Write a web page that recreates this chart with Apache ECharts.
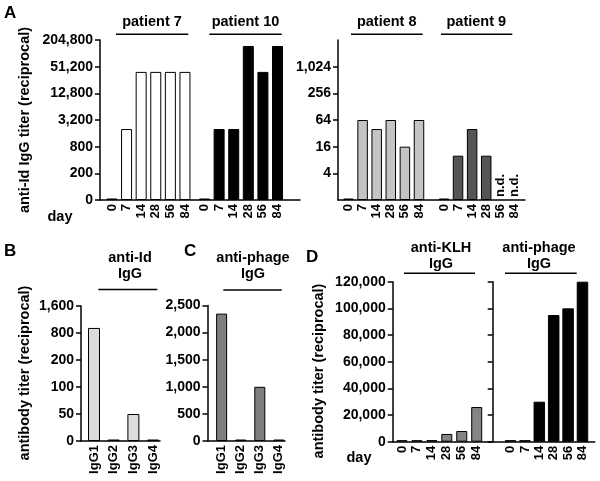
<!DOCTYPE html>
<html>
<head>
<meta charset="utf-8">
<title>antibody titers</title>
<script src="https://cdn.jsdelivr.net/npm/echarts@6/dist/echarts.min.js"></script>
<style>
  html, body { margin: 0; background: #fff; }
  #main { width: 600px; height: 481px; }
</style>
</head>
<body>
<div id="main"></div>
<script>
// days after vaccination
var days = ['0', '7', '14', '28', '56', '84'];
// panel A: anti-Id IgG titers (reciprocal), null = n.d.
var patient7 = [0, 2000, 39000, 39000, 39000, 39000];
var patient10 = [0, 2000, 2000, 150000, 39000, 150000];
var patient8 = [0, 64, 40, 64, 16, 64];
var patient9 = [0, 10, 40, 10, null, null];
var ticksA1 = ['0', '200', '800', '3,200', '12,800', '51,200', '204,800'];
var ticksA2 = ['1', '4', '16', '64', '256', '1,024', '4,096'];
// panels B and C: IgG subclasses
var subclasses = ['IgG1', 'IgG2', 'IgG3', 'IgG4'];
var antiIdSub = [950, 0, 50, 0];
var antiPhageSub = [2350, 0, 1000, 0];
var ticksB = [0, 50, 100, 200, 800, 1600];
// panel D
var antiKLH = [300, 300, 1200, 5800, 8000, 26000];
var antiPhage = [1000, 1000, 30000, 95000, 100000, 120000];

var FONT = '"Liberation Sans", Arial, sans-serif';
var chart = echarts.init(document.getElementById('main'));

function log4(v) { return Math.log(v) / Math.log(4); }
// log scale, "0" drawn as a flat bar on the baseline
function posA1(v) { return v > 0 ? log4(v / 50) : 0; }
function posA2(v) { return v > 0 ? log4(v) : 0; }
// panel B axis is piecewise (0, 50, 100, 200, 800, 1600 evenly spaced)
function posB(v) {
  if (v <= 0) return 0;
  for (var i = 1; i < ticksB.length; i++) {
    if (v <= ticksB[i]) return i - 1 + (v - ticksB[i - 1]) / (ticksB[i] - ticksB[i - 1]);
  }
  return ticksB.length - 1;
}
function fmt(v) { return Number(v).toLocaleString('en-US'); }

function xAx(gi, pos, labels, min, max) {
  var lut = {};
  pos.forEach(function (p, i) { lut[p.toFixed(3)] = labels[i]; });
  return {
    type: 'value', gridIndex: gi, min: min, max: max,
    axisLine: { show: true, onZero: false, lineStyle: { color: '#000', width: 1.5 } },
    axisTick: { show: false },
    splitLine: { show: false },
    axisLabel: {
      customValues: pos, rotate: 90, margin: 4,
      color: '#000', fontFamily: FONT, fontWeight: 'bold', fontSize: 13,
      formatter: function (v) { return lut[Number(v).toFixed(3)] || ''; }
    }
  };
}
function yAx(gi, min, max, interval, formatter, extra) {
  var ax = {
    type: 'value', gridIndex: gi, min: min, max: max, interval: interval,
    axisLine: { show: true, onZero: false, lineStyle: { color: '#000', width: 1.5 } },
    axisTick: { show: true, length: 5, lineStyle: { color: '#000', width: 1.5 } },
    splitLine: { show: false },
    axisLabel: {
      margin: 7, color: '#000', fontFamily: FONT, fontWeight: 'bold', fontSize: 14,
      formatter: formatter
    }
  };
  if (extra) extra(ax);
  return ax;
}
function idx(n, off) { var a = []; for (var i = 0; i < n; i++) a.push(+(off + i).toFixed(3)); return a; }

function bars(gi, groups, width) {
  var data = [];
  groups.forEach(function (g) {
    g.values.forEach(function (v, i) {
      if (v === null) {
        data.push({
          value: [g.x[i], 2], itemStyle: { color: 'transparent', borderWidth: 0 },
          label: {
            show: true, formatter: 'n.d.', position: 'insideBottom', distance: 3,
            rotate: 90, align: 'left', verticalAlign: 'middle',
            color: '#000', fontFamily: FONT, fontWeight: 'bold', fontSize: 13
          }
        });
      } else {
        data.push({ value: [g.x[i], g.pos(v)], itemStyle: { color: g.color } });
      }
    });
  });
  return {
    type: 'bar', xAxisIndex: gi, yAxisIndex: gi, barWidth: width, barMinHeight: 1.5,
    itemStyle: { borderColor: '#000', borderWidth: 1 },
    data: data
  };
}

var xA7 = idx(6, 0), xA10 = idx(6, 6.34);
var xA8 = idx(6, 0), xA9 = idx(6, 6.77);
var xSub = idx(4, 0);
var xD = idx(6, 0);
var lin = function (v) { return v; };

var grids = [
  { left: 100, top: 40, width: 200, height: 160 },
  { left: 338, top: 40, width: 187, height: 160 },
  { left: 81, top: 306, width: 79, height: 135 },
  { left: 207.5, top: 305.5, width: 77.5, height: 135.5 },
  { left: 392.7, top: 281.7, width: 100, height: 160 },
  { left: 492.7, top: 281.7, width: 102, height: 160 }
];

var xAxes = [
  xAx(0, xA7.concat(xA10), days.concat(days), -0.82, 12.88),
  xAx(1, xA8.concat(xA9), days.concat(days), -0.745, 12.52),
  xAx(2, xSub, subclasses, -0.66, 3.35),
  xAx(3, xSub, subclasses, -0.74, 3.32),
  xAx(4, xD, days, -0.62, 6.07),
  xAx(5, xD, days, -1.24, 5.85)
];

var yAxes = [
  yAx(0, 0, 6, 1, function (v) { return ticksA1[v]; }),
  yAx(1, 0, 6, 1, function (v) { return ticksA2[v]; }, function (ax) {
    ax.axisTick.customValues = [1, 2, 3, 4, 5];
    ax.axisLabel.customValues = [1, 2, 3, 4, 5];
  }),
  yAx(2, 0, 5, 1, function (v) { return fmt(ticksB[v]); }),
  yAx(3, 0, 2500, 500, fmt),
  yAx(4, 0, 120000, 20000, fmt),
  yAx(5, 0, 120000, 20000, fmt, function (ax) { ax.axisLabel.show = false; })
];

var series = [
  bars(0, [
    { values: patient7, x: xA7, pos: posA1, color: '#ffffff' },
    { values: patient10, x: xA10, pos: posA1, color: '#000000' }
  ], 11),
  bars(1, [
    { values: patient8, x: xA8, pos: posA2, color: '#c4c4c4' },
    { values: patient9, x: xA9, pos: posA2, color: '#555555' }
  ], 10.5),
  bars(2, [{ values: antiIdSub, x: xSub, pos: posB, color: '#dcdcdc' }], 12),
  bars(3, [{ values: antiPhageSub, x: xSub, pos: lin, color: '#7f7f7f' }], 11),
  bars(4, [{ values: antiKLH, x: xD, pos: lin, color: '#858585' }], 11),
  bars(5, [{ values: antiPhage, x: xD, pos: lin, color: '#000000' }], 11.5)
];

// annotation text and group bars
function txt(s, x, y, size, rot, align) {
  return {
    type: 'text', x: x, y: y, rotation: rot || 0,
    style: {
      text: s, fill: '#000', font: 'bold ' + size + 'px ' + FONT,
      align: align || 'center', verticalAlign: 'middle'
    }
  };
}
function hline(x1, x2, y) {
  return { type: 'line', shape: { x1: x1, y1: y, x2: x2, y2: y }, style: { stroke: '#000', lineWidth: 1.5 } };
}
var graphics = [
  txt('A', 4, 13, 17, 0, 'left'),
  txt('B', 4, 251, 17, 0, 'left'),
  txt('C', 184, 251, 17, 0, 'left'),
  txt('D', 306, 257, 17, 0, 'left'),
  txt('anti-Id IgG titer (reciprocal)', 25, 120, 14.5, Math.PI / 2),
  txt('antibody titer (reciprocal)', 25, 373, 14.5, Math.PI / 2),
  txt('antibody titer (reciprocal)', 319, 371, 14.5, Math.PI / 2),
  txt('day', 60, 217, 14.5),
  txt('day', 359, 458, 14.5),
  txt('patient 7', 152, 21.7, 14.5), hline(116, 188.3, 34.3),
  txt('patient 10', 245.5, 21.7, 14.5), hline(209.3, 281.7, 34.3),
  txt('patient 8', 386.7, 21.7, 14.5), hline(351, 422.7, 34.3),
  txt('patient 9', 476.3, 21.7, 14.5), hline(441, 512.3, 34.3),
  txt('anti-Id', 130, 258, 14.5), txt('IgG', 130, 274, 14.5), hline(98.3, 157.3, 289.5),
  txt('anti-phage', 253, 258, 14.5), txt('IgG', 253, 274, 14.5), hline(223.3, 281.7, 290),
  txt('anti-KLH', 441, 248, 14.5), txt('IgG', 441, 264, 14.5), hline(404, 475, 273.3),
  txt('anti-phage', 539, 248, 14.5), txt('IgG', 539, 264, 14.5), hline(505, 576.7, 273.3)
];

chart.setOption({
  animation: false,
  backgroundColor: '#fff',
  grid: grids,
  xAxis: xAxes,
  yAxis: yAxes,
  series: series,
  graphic: graphics
});
</script>
</body>
</html>
